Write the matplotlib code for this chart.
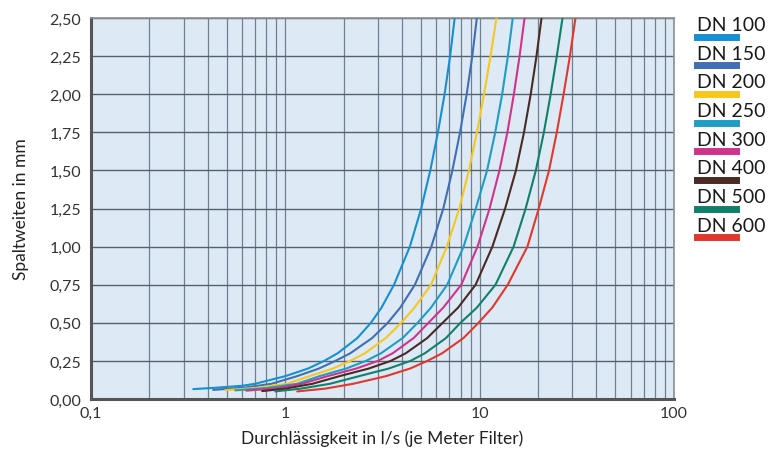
import numpy as np
import matplotlib
matplotlib.use("Agg")
import matplotlib.pyplot as plt
from matplotlib.ticker import FixedLocator, FuncFormatter, LogLocator, NullFormatter
from matplotlib.lines import Line2D

plt.rcParams['font.family'] = ['Lato', 'DejaVu Sans']

# Daten: Durchlässigkeit in l/s, Spaltweite in mm
labels = ['DN 100', 'DN 150', 'DN 200', 'DN 250', 'DN 300', 'DN 400', 'DN 500', 'DN 600']
colors = ['#1590d2', '#3f6fb4', '#f6c81e', '#1f9dc2', '#d1338a', '#4a2a22', '#11806b', '#e1382b']

x_dn100 = [0.336, 0.45, 0.60, 0.70, 1.0, 1.31, 1.585, 1.86, 2.35, 2.76, 3.13, 3.63, 4.38, 5.01, 5.58, 6.11, 6.61, 7.06, 7.45]
y_dn100 = [0.065, 0.075, 0.087, 0.10, 0.15, 0.20, 0.25, 0.30, 0.40, 0.50, 0.60, 0.75, 1.0, 1.25, 1.5, 1.75, 2.0, 2.25, 2.5]

x_dn150 = [0.4255, 0.62, 0.85, 1.15, 1.49, 1.81, 2.16, 2.80, 3.37, 3.91, 4.65, 5.65, 6.51, 7.25, 7.94, 8.59, 9.18, 9.69]
y_dn150 = [0.06, 0.075, 0.10, 0.15, 0.20, 0.25, 0.30, 0.40, 0.50, 0.60, 0.75, 1.0, 1.25, 1.5, 1.75, 2.0, 2.25, 2.5]

x_dn200 = [0.491, 0.72, 1.02, 1.33, 1.76, 2.16, 2.57, 3.29, 3.95, 4.63, 5.63, 6.79, 7.87, 8.82, 9.70, 10.55, 11.40, 12.22]
y_dn200 = [0.058, 0.074, 0.10, 0.15, 0.20, 0.25, 0.30, 0.40, 0.50, 0.60, 0.75, 1.0, 1.25, 1.5, 1.75, 2.0, 2.25, 2.5]

x_dn250 = [0.5525, 0.80, 1.15, 1.50, 2.06, 2.60, 3.11, 4.02, 4.80, 5.63, 6.82, 8.28, 9.57, 10.94, 12.05, 13.08, 14.0, 14.83]
y_dn250 = [0.057, 0.072, 0.10, 0.15, 0.20, 0.25, 0.30, 0.40, 0.50, 0.60, 0.75, 1.0, 1.25, 1.5, 1.75, 2.0, 2.25, 2.5]

x_dn300 = [0.63, 0.90, 1.22, 1.65, 2.32, 3.0, 3.57, 4.58, 5.46, 6.51, 8.06, 9.77, 11.27, 12.67, 13.92, 15.03, 16.08, 17.06]
y_dn300 = [0.055, 0.07, 0.10, 0.15, 0.20, 0.25, 0.30, 0.40, 0.50, 0.60, 0.75, 1.0, 1.25, 1.5, 1.75, 2.0, 2.25, 2.5]

x_dn400 = [0.761, 1.0, 1.38, 1.90, 2.69, 3.49, 4.17, 5.38, 6.46, 7.76, 9.55, 11.65, 13.55, 15.40, 16.95, 18.35, 19.65, 20.86]
y_dn400 = [0.052, 0.068, 0.10, 0.15, 0.20, 0.25, 0.30, 0.40, 0.50, 0.60, 0.75, 1.0, 1.25, 1.5, 1.75, 2.0, 2.25, 2.5]

x_dn500 = [0.888, 1.2, 1.70, 2.4, 3.41, 4.41, 5.23, 6.72, 7.98, 9.70, 12.09, 14.98, 17.28, 19.50, 21.45, 23.25, 25.0, 26.75]
y_dn500 = [0.05, 0.068, 0.10, 0.15, 0.20, 0.25, 0.30, 0.40, 0.50, 0.60, 0.75, 1.0, 1.25, 1.5, 1.75, 2.0, 2.25, 2.5]

x_dn600 = [1.153, 1.6, 2.24, 3.3, 4.39, 5.39, 6.42, 8.27, 9.88, 11.64, 13.98, 17.65, 20.19, 22.8, 25.0, 27.1, 29.2, 31.2]
y_dn600 = [0.05, 0.068, 0.10, 0.15, 0.20, 0.25, 0.30, 0.40, 0.50, 0.60, 0.75, 1.0, 1.25, 1.5, 1.75, 2.0, 2.25, 2.5]

xs = [x_dn100, x_dn150, x_dn200, x_dn250, x_dn300, x_dn400, x_dn500, x_dn600]
ys = [y_dn100, y_dn150, y_dn200, y_dn250, y_dn300, y_dn400, y_dn500, y_dn600]

y_ticks = [0, 0.25, 0.5, 0.75, 1.0, 1.25, 1.5, 1.75, 2.0, 2.25, 2.5]
x_ticks = [0.1, 1, 10, 100]
x_ticklabels = ['0,1', '1', '10', '100']

fig = plt.figure(figsize=(7.78, 4.52), dpi=100)
ax = fig.add_axes([0.117, 0.115, 0.749, 0.843])
ax.set_facecolor('#dde9f5')

for x, y, c in zip(xs, ys, colors):
    ax.plot(x, y, color=c, lw=1.5, solid_capstyle='round', solid_joinstyle='round', zorder=3)

ax.set_xscale('log')
ax.set_xlim(0.1, 100)
ax.set_ylim(0, 2.5)

ax.xaxis.set_major_locator(FixedLocator(x_ticks))
ax.xaxis.set_major_formatter(FuncFormatter(
    lambda v, p: x_ticklabels[p] if p is not None and p < len(x_ticklabels) else ''))
ax.xaxis.set_minor_locator(LogLocator(base=10, subs=np.arange(2, 10)))
ax.xaxis.set_minor_formatter(NullFormatter())
ax.yaxis.set_major_locator(FixedLocator(y_ticks))
ax.yaxis.set_major_formatter(FuncFormatter(lambda v, p: f'{v:.2f}'.replace('.', ',')))

ax.grid(True, which='both', axis='x', color='#6f808e', lw=0.9)
ax.grid(True, which='major', axis='y', color='#55626e', lw=1.0)
ax.set_axisbelow(True)

ax.tick_params(axis='both', which='both', length=0, labelsize=11.5, colors='#333333')
ax.tick_params(axis='x', pad=5)
ax.tick_params(axis='y', pad=7)

for s in ['left', 'bottom']:
    ax.spines[s].set_color('#555555')
    ax.spines[s].set_linewidth(2.2)
for s in ['top', 'right']:
    ax.spines[s].set_color('#8a8f94')
    ax.spines[s].set_linewidth(1.2)

ax.set_xlabel('Durchlässigkeit in l/s (je Meter Filter)', fontsize=12.5, color='#222222', labelpad=7)
ax.set_ylabel('Spaltweiten in mm', fontsize=12.5, color='#222222', labelpad=15)

# Legende rechts
for i, (lab, c) in enumerate(zip(labels, colors)):
    ytxt = 1 - (31 + i * 28.7) / 452
    fig.text(697 / 778, ytxt, lab, fontsize=14, color='#1a1a1a', ha='left', va='baseline')
    ybar = 1 - (37.5 + i * 28.7) / 452
    fig.add_artist(Line2D([697 / 778, 736 / 778], [ybar, ybar], color=c, lw=5, transform=fig.transFigure))

fig.savefig('out.png', dpi=100)
